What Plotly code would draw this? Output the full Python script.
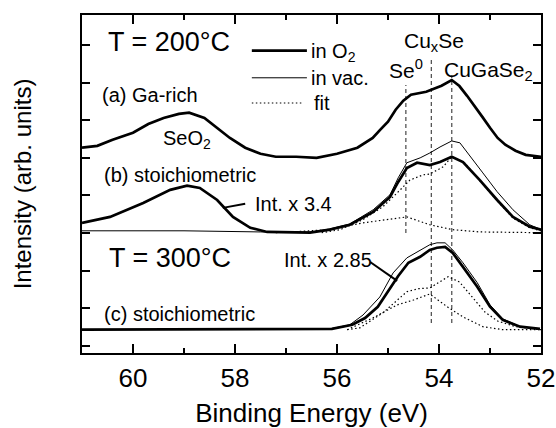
import plotly.graph_objects as go

# ---------------- data (binding energy in eV, intensity in arb. units) ----------------
a_o2_e = [61.0, 60.7, 60.4, 60.0, 59.7, 59.4, 59.1, 58.9, 58.6, 58.35, 58.1, 57.8, 57.5, 57.2,
          56.8, 56.4, 56.0, 55.6, 55.3, 55.15, 55.0, 54.85, 54.7, 54.55, 54.4, 54.25, 54.1,
          53.95, 53.75, 53.6, 53.45, 53.3, 53.15, 53.0, 52.85, 52.7, 52.5, 52.3, 52.0]
a_o2_i = [5.27, 5.32, 5.48, 5.67, 5.90, 6.06, 6.17, 6.20, 6.06, 5.80, 5.53, 5.27, 5.11, 5.03,
          5.03, 5.00, 5.11, 5.27, 5.53, 5.75, 5.96, 6.28, 6.52, 6.68, 6.73, 6.76, 6.84,
          6.92, 7.07, 6.91, 6.65, 6.38, 6.09, 5.80, 5.53, 5.35, 5.19, 5.08, 5.03]

b_o2_e = [61.0, 60.45, 59.8, 59.27, 58.94, 58.69, 58.35, 58.04, 57.7, 57.37, 56.53, 56.14, 55.75,
          55.29, 54.96, 54.8, 54.63, 54.43, 54.18, 53.98, 53.75, 53.53, 53.2, 52.86, 52.55, 52.22, 52.0]
b_o2_i = [3.27, 3.43, 3.80, 4.15, 4.26, 4.20, 3.88, 3.43, 3.14, 3.03, 3.01, 3.09, 3.22,
          3.56, 3.96, 4.36, 4.73, 4.87, 4.81, 4.89, 5.03, 4.89, 4.41, 3.88, 3.43, 3.17, 3.09]

b_vac_e = [61.0, 59.0, 57.5, 56.5, 56.14, 55.75, 55.29, 54.96, 54.8, 54.63, 54.37, 54.18, 53.98,
           53.75, 53.59, 53.39, 53.14, 52.86, 52.55, 52.22, 52.0]
b_vac_i = [3.06, 3.06, 3.03, 3.03, 3.11, 3.24, 3.62, 4.02, 4.47, 4.87, 5.00, 5.13, 5.29,
           5.45, 5.40, 5.03, 4.60, 4.10, 3.62, 3.22, 3.09]

b_fit_se0_e = [57.2, 56.14, 55.5, 55.1, 54.63, 54.18, 53.73, 53.2, 52.0]
b_fit_se0_i = [3.01, 3.09, 3.27, 3.35, 3.43, 3.22, 3.09, 3.03, 3.01]

b_fit_sum_e = [56.3, 55.94, 55.5, 55.1, 54.76, 54.57, 54.31, 54.18, 53.92, 53.75, 53.5, 53.2,
               52.86, 52.55, 52.22, 52.0]
b_fit_sum_i = [3.01, 3.09, 3.35, 3.70, 4.15, 4.41, 4.55, 4.57, 4.76, 5.03, 4.87, 4.39,
               3.86, 3.40, 3.14, 3.06]

c_o2_e = [61.0, 58.0, 56.5, 56.1, 55.7, 55.45, 55.2, 55.0, 54.8, 54.6, 54.37, 54.18, 54.04,
          53.88, 53.73, 53.53, 53.25, 53.0, 52.75, 52.41, 52.02]
c_o2_i = [0.43, 0.43, 0.43, 0.45, 0.56, 0.74, 1.04, 1.44, 1.86, 2.21, 2.37, 2.55, 2.61,
          2.63, 2.47, 2.10, 1.57, 1.04, 0.69, 0.51, 0.45]

c_vac_e = [61.0, 56.5, 56.14, 55.75, 55.49, 55.16, 54.9, 54.63, 54.37, 54.18, 54.04, 53.88,
           53.73, 53.53, 53.25, 53.0, 52.75, 52.41, 52.02]
c_vac_i = [0.43, 0.43, 0.45, 0.56, 0.82, 1.30, 1.94, 2.34, 2.55, 2.69, 2.74, 2.74,
           2.55, 2.21, 1.68, 1.09, 0.72, 0.51, 0.45]

c_fit1_e = [55.8, 55.55, 55.1, 54.63, 54.4, 54.18, 53.82, 53.6, 53.35, 53.1, 52.85, 52.5, 52.0]
c_fit1_i = [0.43, 0.48, 0.88, 1.44, 1.52, 1.54, 1.84, 1.70, 1.30, 0.90, 0.66, 0.51, 0.43]

c_fit2_e = [55.8, 55.3, 54.82, 54.5, 54.18, 53.84, 53.53, 53.14, 52.75, 52.0]
c_fit2_i = [0.43, 0.74, 1.09, 1.22, 1.38, 1.04, 0.77, 0.51, 0.43, 0.43]

# reference peak positions (eV) and the vertical extent of their marker lines
ref_names = ["Se0", "CuxSe", "CuGaSe2"]
ref_energy = [54.65, 54.15, 53.75]
ref_top = [6.94, 7.65, 7.20]
ref_bottom = [3.00, 0.61, 0.61]

x_ticks = [60, 58, 56, 54, 52]
x_tick_labels = ["60", "58", "56", "54", "52"]
y_ticks = [0, 1, 2, 3, 4, 5, 6, 7, 8]

FONT = "Liberation Sans, Arial, sans-serif"
THICK = 2.7
THIN = 1.0
DOT = "1.5px,2.5px"

fig = go.Figure()


def add_line(x, y, width, dash="solid", color="black"):
    fig.add_trace(go.Scatter(x=x, y=y, mode="lines", showlegend=False, hoverinfo="skip",
                             line=dict(color=color, width=width, dash=dash)))


for e, top, bot in zip(ref_energy, ref_top, ref_bottom):
    add_line([e, e], [bot, top], 1.3, "4px,3px", "#555555")

add_line(b_fit_se0_e, b_fit_se0_i, 1.2, DOT)
add_line(b_fit_sum_e, b_fit_sum_i, 1.2, DOT)
add_line(c_fit1_e, c_fit1_i, 1.2, DOT)
add_line(c_fit2_e, c_fit2_i, 1.2, DOT)
add_line(b_vac_e, b_vac_i, THIN)
add_line(c_vac_e, c_vac_i, THIN)
add_line(a_o2_e, a_o2_i, THICK)
add_line(b_o2_e, b_o2_i, THICK)
add_line(c_o2_e, c_o2_i, THICK)

# legend glyphs (drawn manually to match the original layout)
shapes = [
    dict(type="line", x0=57.67, x1=56.59, y0=7.85, y1=7.85, line=dict(color="black", width=THICK)),
    dict(type="line", x0=57.67, x1=56.59, y0=7.13, y1=7.13, line=dict(color="black", width=THIN)),
    dict(type="line", x0=57.67, x1=56.67, y0=6.46, y1=6.46, line=dict(color="black", width=1.2, dash=DOT)),
    # pointer lines for the scaling notes
    dict(type="line", x0=57.80, x1=58.24, y0=3.78, y1=3.67, line=dict(color="black", width=2)),
    dict(type="line", x0=55.35, x1=54.82, y0=2.23, y1=1.73, line=dict(color="black", width=2)),
]


def txt(x, y, s, size, xanchor="left", yanchor="middle"):
    return dict(x=x, y=y, text=s, showarrow=False, xanchor=xanchor, yanchor=yanchor,
                font=dict(family=FONT, size=size, color="black"))


annotations = [
    txt(59.30, 8.09, "T = 200°C", 27, "center"),
    txt(59.28, 2.34, "T = 300°C", 27, "center"),
    txt(60.65, 6.68, "(a) Ga-rich", 20),
    txt(60.61, 4.55, "(b) stoichiometric", 20),
    txt(60.61, 0.85, "(c) stoichiometric", 20),
    txt(58.95, 5.50, "SeO<sub>2</sub>", 20, "center"),
    txt(57.65, 3.78, "Int. x 3.4", 20),
    txt(57.08, 2.29, "Int. x 2.85", 20),
    txt(56.55, 7.80, "in O<sub>2</sub>", 20),
    txt(56.55, 7.13, "in vac.", 20),
    txt(56.49, 6.46, "fit", 20),
    txt(54.10, 8.08, "Cu<sub>x</sub>Se", 21, "center"),
    txt(54.65, 7.36, "Se<sup>0</sup>", 21, "center"),
    txt(53.95, 7.30, "CuGaSe<sub>2</sub>", 21),
]

axis_common = dict(showline=True, linecolor="black", linewidth=2, mirror="ticks",
                   ticks="inside", tickcolor="black", tickwidth=1.5, showgrid=False,
                   zeroline=False, automargin=False)

fig.update_layout(
    width=556, height=428,
    margin=dict(l=82, r=15, t=15, b=75),
    paper_bgcolor="white", plot_bgcolor="white",
    font=dict(family=FONT, color="black"),
    shapes=shapes, annotations=annotations,
    xaxis=dict(range=[61, 52], tickvals=x_ticks, ticktext=x_tick_labels, ticklen=9,
               tickfont=dict(size=26, family=FONT), ticklabelstandoff=1,
               minor=dict(dtick=1, tick0=52, ticklen=5, ticks="inside", tickcolor="black", tickwidth=1.5),
               title=dict(text="Binding Energy (eV)", font=dict(size=26, family=FONT), standoff=17),
               **axis_common),
    yaxis=dict(range=[-0.19, 8.80], tickvals=y_ticks, showticklabels=False, ticklen=8,
               title=dict(text="Intensity (arb. units)", font=dict(size=24, family=FONT), standoff=42),
               **axis_common),
)

fig.write_html("out.html")
